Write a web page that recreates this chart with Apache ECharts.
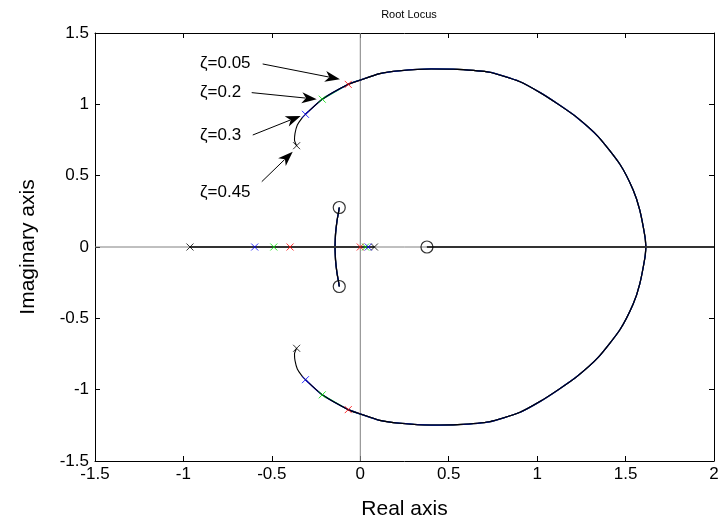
<!DOCTYPE html>
<html>
<head>
<meta charset="utf-8">
<script src="https://cdn.jsdelivr.net/npm/echarts@6/dist/echarts.min.js"></script>
<style>
  html, body { margin: 0; padding: 0; background: #fff; }
  #chart { width: 722px; height: 527px; }
</style>
</head>
<body>
<div id="chart"></div>
<script>
// Axis ranges and tick spacing
const xRange = [-1.5, 2];
const yRange = [-1.5, 1.5];
const tickStep = 0.5;

// Four closed-loop systems (one per damping ratio), each with its own colour
const systemNames = ['ζ=0.05', 'ζ=0.2', 'ζ=0.3', 'ζ=0.45'];
const systemColors = ['#ff0000', '#00e000', '#0000ff', '#000000'];

// Complex open-loop pole of each system (upper half; the lower one is its conjugate)
const complexPoles = [[-0.068, 1.14], [-0.215, 1.036], [-0.31, 0.93], [-0.36, 0.71]];
// Real open-loop poles of each system: [left pole, pole near the origin]
const realPoles = [[-0.397, 0.0], [-0.489, 0.03], [-0.597, 0.045], [-0.963, 0.08]];

// Open-loop zeros (shared)
const zerosList = [[-0.119, 0.277], [-0.119, -0.277], [0.377, 0]];

// Upper branch: from the complex poles round to the real-axis break-in point
const outerArc = [
  [-0.36, 0.71], [-0.372, 0.75], [-0.369, 0.797], [-0.356, 0.855], [-0.331, 0.902],
  [-0.31, 0.93], [-0.215, 1.036], [-0.068, 1.14], [0.0, 1.17], [0.11, 1.215],
  [0.22, 1.235], [0.4, 1.248], [0.55, 1.245], [0.73, 1.225], [0.9, 1.16],
  [1.02, 1.08], [1.12, 1.0], [1.223, 0.91], [1.345, 0.774], [1.468, 0.58],
  [1.543, 0.40], [1.58, 0.26], [1.61, 0.07], [1.615, 0]
];

// Branch from the real-axis breakaway point to the complex zero (upper half)
const innerBranch = [[-0.143, 0], [-0.14, 0.09], [-0.132, 0.18], [-0.122, 0.25], [-0.119, 0.277]];

// Real-axis branch from the real zero off to the right edge
const rightBranch = [[0.377, 0], [2, 0]];

// Damping-ratio callouts: [text x, text y, arrow tail x, tail y, arrow tip x, tip y]
const calloutLabels = ['ζ=0.05', 'ζ=0.2', 'ζ=0.3', 'ζ=0.45'];
const calloutGeom = [
  [-0.906, 1.29, -0.552, 1.283, -0.115, 1.176],
  [-0.906, 1.087, -0.614, 1.082, -0.246, 1.036],
  [-0.906, 0.785, -0.608, 0.785, -0.337, 0.919],
  [-0.906, 0.386, -0.557, 0.458, -0.382, 0.668]
];

const mirror = pts => pts.map(p => [p[0], -p[1]]);

function systemBranches(k) {
  const pole = complexPoles[k];
  const start = outerArc.findIndex(p => p[1] >= pole[1] - 1e-9);
  const upper = [pole].concat(outerArc.slice(start).filter(p => !(p[0] === pole[0] && p[1] === pole[1])));
  return {
    upper: upper,
    lower: mirror(upper),
    real: [[realPoles[k][0], 0], [realPoles[k][1], 0]]
  };
}

const font = 'Liberation Sans, Arial, Helvetica, sans-serif';
const series = [];

// zero lines through the origin
series.push({
  type: 'line', silent: true, symbol: 'none', z: 1,
  lineStyle: { color: '#808080', width: 1 },
  data: [[xRange[0], 0], [xRange[1], 0]]
});
series.push({
  type: 'line', silent: true, symbol: 'none', z: 1,
  lineStyle: { color: '#808080', width: 1 },
  data: [[0, yRange[0]], [0, yRange[1]]]
});

systemNames.forEach((name, k) => {
  const b = systemBranches(k);
  const isBlack = systemColors[k] === '#000000';
  const w = isBlack ? 1.1 : 1.3;
  const z = isBlack ? 5 : 2 + k;
  const curves = [b.upper, b.lower, innerBranch, mirror(innerBranch)];
  curves.forEach(p => {
    series.push({
      type: 'line', silent: true, symbol: 'none', z: z, animation: false,
      smooth: 0.2,
      lineStyle: { color: systemColors[k], width: w },
      data: p
    });
  });
  [b.real, rightBranch].forEach(p => {
    series.push({
      type: 'line', silent: true, symbol: 'none', z: z, animation: false,
      lineStyle: { color: isBlack ? '#333' : systemColors[k], width: isBlack ? 1.8 : 2.2 },
      data: p
    });
  });
  // poles
  series.push({
    type: 'scatter', silent: true, z: 8, animation: false,
    symbol: 'path://M0,0L10,10M10,0L0,10', symbolSize: 7,
    itemStyle: { color: 'none', borderColor: systemColors[k], borderWidth: 1 },
    data: [complexPoles[k], [complexPoles[k][0], -complexPoles[k][1]],
           [realPoles[k][0], 0], [realPoles[k][1], 0]]
  });
});

// zeros
series.push({
  type: 'scatter', silent: true, z: 9, animation: false,
  symbol: 'circle', symbolSize: 12,
  itemStyle: { color: 'none', borderColor: '#000', borderWidth: 1.2 },
  data: zerosList
});

// callouts with arrows
series.push({
  type: 'custom', silent: true, z: 10, animation: false,
  coordinateSystem: 'cartesian2d',
  encode: { x: [0, 2, 4], y: [1, 3, 5] },
  data: calloutGeom,
  renderItem: function (params, api) {
    const t = api.coord([api.value(0), api.value(1)]);
    const s = api.coord([api.value(2), api.value(3)]);
    const e = api.coord([api.value(4), api.value(5)]);
    const dx = e[0] - s[0], dy = e[1] - s[1];
    const len = Math.sqrt(dx * dx + dy * dy);
    const ux = dx / len, uy = dy / len;
    const nx = -uy, ny = ux;
    const L = 15, W = 5.5;
    const bx = e[0] - ux * L, by = e[1] - uy * L;
    const head = [
      [e[0], e[1]],
      [bx + nx * W, by + ny * W],
      [e[0] - ux * L * 0.72, e[1] - uy * L * 0.72],
      [bx - nx * W, by - ny * W]
    ];
    return {
      type: 'group',
      children: [
        { type: 'line', shape: { x1: s[0], y1: s[1], x2: e[0] - ux * L * 0.75, y2: e[1] - uy * L * 0.75 },
          style: { stroke: '#000', lineWidth: 1 } },
        { type: 'polygon', shape: { points: head }, style: { fill: '#000' } },
        { type: 'text', x: t[0], y: t[1],
          style: { text: calloutLabels[params.dataIndex], fill: '#000', font: '17px ' + font,
                   align: 'left', verticalAlign: 'middle' } }
      ]
    };
  }
});

const axisCommon = {
  interval: tickStep,
  axisLine: { show: true, onZero: false, lineStyle: { color: '#000', width: 1 } },
  axisTick: { show: true, inside: true, length: 5, lineStyle: { color: '#000' } },
  splitLine: { show: false }
};

const chart = echarts.init(document.getElementById('chart'), null, { renderer: 'canvas' });
chart.setOption({
  animation: false,
  backgroundColor: '#fff',
  title: {
    text: 'Root Locus', left: 404, top: 4, textAlign: 'center',
    textStyle: { fontFamily: font, fontSize: 11, fontWeight: 'normal', color: '#000' }
  },
  grid: { left: 95, right: 8, top: 33, bottom: 66, containLabel: false },
  xAxis: [
    Object.assign({}, axisCommon, {
      type: 'value', position: 'bottom', min: xRange[0], max: xRange[1],
      name: 'Real axis', nameLocation: 'middle', nameGap: 38,
      nameTextStyle: { fontFamily: font, fontSize: 21, color: '#000' },
      axisLabel: { fontFamily: font, fontSize: 17, color: '#000', margin: 5 }
    }),
    Object.assign({}, axisCommon, {
      type: 'value', position: 'top', min: xRange[0], max: xRange[1],
      axisLabel: { show: false }
    })
  ],
  yAxis: [
    Object.assign({}, axisCommon, {
      type: 'value', position: 'left', min: yRange[0], max: yRange[1],
      name: 'Imaginary axis', nameLocation: 'middle', nameGap: 56,
      nameTextStyle: { fontFamily: font, fontSize: 21, color: '#000' },
      axisLabel: { fontFamily: font, fontSize: 17, color: '#000', margin: 6 }
    }),
    Object.assign({}, axisCommon, {
      type: 'value', position: 'right', min: yRange[0], max: yRange[1],
      axisLabel: { show: false }
    })
  ],
  series: series
});
</script>
</body>
</html>
